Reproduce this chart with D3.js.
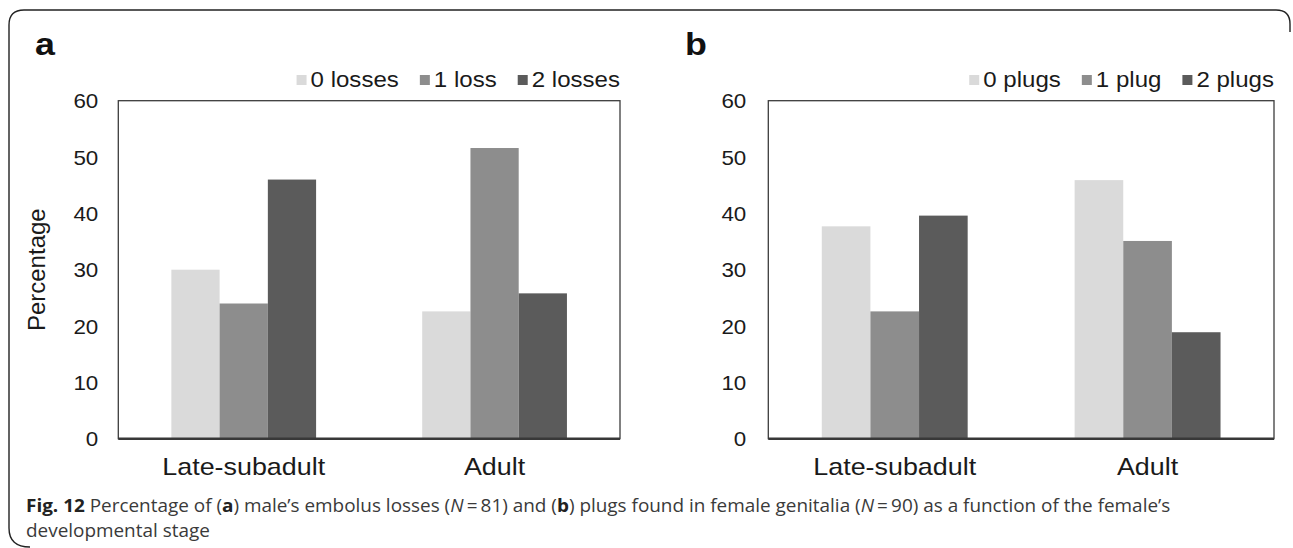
<!DOCTYPE html>
<html>
<head>
<meta charset="utf-8">
<script src="https://cdn.jsdelivr.net/npm/d3@7"></script>
<style>
  body { margin: 0; background: #fff; }
  svg { display: block; }
</style>
</head>
<body>
<div id="chart"></div>
<script>
(function () {

  // data (percentages)
  const stages = ["Late-subadult", "Adult"];

  const lossKeys = ["0 losses", "1 loss", "2 losses"];
  const lossLateSubadult = [30, 24, 46];
  const lossAdult = [22.6, 51.6, 25.8];

  const plugKeys = ["0 plugs", "1 plug", "2 plugs"];
  const plugLateSubadult = [37.7, 22.6, 39.6];
  const plugAdult = [45.9, 35.1, 18.9];

  const yTicks = [0, 10, 20, 30, 40, 50, 60];
  const shades = ["#dadada", "#8d8d8d", "#5b5b5b"];

  const W = 1293, H = 548;
  const FONT = "'Liberation Sans', Arial, sans-serif";
  const SX = 1.12; // the source raster is a little wider than tall

  const svg = d3.select("#chart")
    .append("svg")
    .attr("width", W)
    .attr("height", H);

  // figure frame
  svg.append("path")
    .attr("d", "M30,547 Q9,547 9,528 L9,25 Q9,10 24,10 L1276,10 Q1290,10 1290,24 L1290,32")
    .attr("fill", "none")
    .attr("stroke", "#222")
    .attr("stroke-width", 1.4);

  function stretchText(parent, x, y, str, size) {
    return parent.append("text")
      .attr("transform", `translate(${x},${y}) scale(${SX},1)`)
      .style("font-family", FONT)
      .style("font-size", size + "px")
      .attr("fill", "#1a1a1a")
      .text(str);
  }

  const top = 100.7, bottom = 438.7;

  function drawPanel(opt) {
    const g = svg.append("g").attr("transform", `translate(${opt.left},0)`);
    const width = opt.width;

    const rows = stages.map((s, i) => ({
      stage: s,
      vals: opt.keys.map((k, j) => ({ key: k, value: opt.values[i][j] }))
    }));

    const x0 = d3.scaleBand()
      .domain(stages)
      .range([0, width])
      .paddingInner(0.423)
      .paddingOuter(0.2115);

    const x1 = d3.scaleBand()
      .domain(opt.keys)
      .range([0, x0.bandwidth()]);

    const y = d3.scaleLinear()
      .domain([0, 60])
      .range([bottom, top]);

    const color = d3.scaleOrdinal().domain(opt.keys).range(shades);

    // plot box
    g.append("rect")
      .attr("x", 0)
      .attr("y", top)
      .attr("width", width)
      .attr("height", bottom - top)
      .attr("fill", "none")
      .attr("stroke", "#3c3c3c")
      .attr("stroke-width", 1.3);

    // bars
    g.selectAll(".grp")
      .data(rows)
      .join("g")
      .attr("transform", d => `translate(${x0(d.stage)},0)`)
      .selectAll("rect")
      .data(d => d.vals)
      .join("rect")
      .attr("x", d => x1(d.key))
      .attr("width", x1.bandwidth())
      .attr("y", d => y(d.value))
      .attr("height", d => y(0) - y(d.value))
      .attr("fill", d => color(d.key));

    // baseline
    g.append("line")
      .attr("x1", 0)
      .attr("x2", width)
      .attr("y1", y(0))
      .attr("y2", y(0))
      .attr("stroke", "#383838")
      .attr("stroke-width", 2.4);

    // y axis labels
    const yAxis = g.append("g")
      .call(d3.axisLeft(y).tickValues(yTicks).tickSize(0).tickPadding(0));
    yAxis.select(".domain").remove();
    yAxis.selectAll("text")
      .attr("x", 0)
      .attr("dy", "0.36em")
      .attr("transform", `translate(${-opt.tickGap},0) scale(${SX},1)`)
      .style("font-family", FONT)
      .style("font-size", "20px")
      .attr("fill", "#1a1a1a");

    // category labels
    stages.forEach(s => {
      stretchText(g, x0(s) + x0.bandwidth() / 2, 475, s, 24)
        .attr("text-anchor", "middle");
    });

    // legend, right aligned to the box
    let cursor = width;
    opt.keys.slice().reverse().forEach(k => {
      const t = stretchText(g, 0, 87.3, k, 21.5);
      const tw = t.node().getComputedTextLength() * SX;
      t.attr("transform", `translate(${cursor - tw},87.3) scale(${SX},1)`);
      const sqX = cursor - tw - 14;
      g.append("rect")
        .attr("x", sqX)
        .attr("y", 75)
        .attr("width", 10)
        .attr("height", 10)
        .attr("fill", color(k));
      cursor = sqX - 21;
    });

    // panel letter
    svg.append("text")
      .attr("transform", `translate(${opt.letterX},55) scale(${SX},1)`)
      .style("font-family", FONT)
      .style("font-size", "32px")
      .style("font-weight", "700")
      .attr("fill", "#111")
      .text(opt.letter);
  }

  drawPanel({
    left: 118.3, width: 501.7, tickGap: 20,
    keys: lossKeys, values: [lossLateSubadult, lossAdult],
    letter: "a", letterX: 35
  });

  drawPanel({
    left: 768.3, width: 505.7, tickGap: 22,
    keys: plugKeys, values: [plugLateSubadult, plugAdult],
    letter: "b", letterX: 685
  });

  // y title (panel a only)
  svg.append("text")
    .attr("transform", `translate(45,${(top + bottom) / 2}) rotate(-90)`)
    .attr("text-anchor", "middle")
    .style("font-family", FONT)
    .style("font-size", "24px")
    .attr("fill", "#1a1a1a")
    .text("Percentage");

  // caption
  const cap = svg.append("g");
  const capFont = "'Open Sans', 'Noto Sans', sans-serif";

  const line1 = cap.append("text")
    .attr("x", 0).attr("y", 0)
    .style("font-family", capFont)
    .style("font-size", "18.5px")
    .attr("fill", "#3a3a3a");
  line1.append("tspan").style("font-weight", "700").attr("fill", "#222").text("Fig. 12");
  line1.append("tspan").text(" Percentage of (");
  line1.append("tspan").style("font-weight", "700").attr("fill", "#222").text("a");
  line1.append("tspan").text(") male\u2019s embolus losses (");
  line1.append("tspan").style("font-style", "italic").text("N");
  line1.append("tspan").text("\u2009=\u200981) and (");
  line1.append("tspan").style("font-weight", "700").attr("fill", "#222").text("b");
  line1.append("tspan").text(") plugs found in female genitalia (");
  line1.append("tspan").style("font-style", "italic").text("N");
  line1.append("tspan").text("\u2009=\u200990) as a function of the female\u2019s");

  cap.append("text")
    .attr("x", 0).attr("y", 25.5)
    .style("font-family", capFont)
    .style("font-size", "18.5px")
    .attr("fill", "#3a3a3a")
    .text("developmental stage");

  const natural = line1.node().getComputedTextLength();
  const k = (1171 - 26) / natural;
  cap.attr("transform", `translate(26,511.5) scale(${k},1)`);

})();
</script>
</body>
</html>
